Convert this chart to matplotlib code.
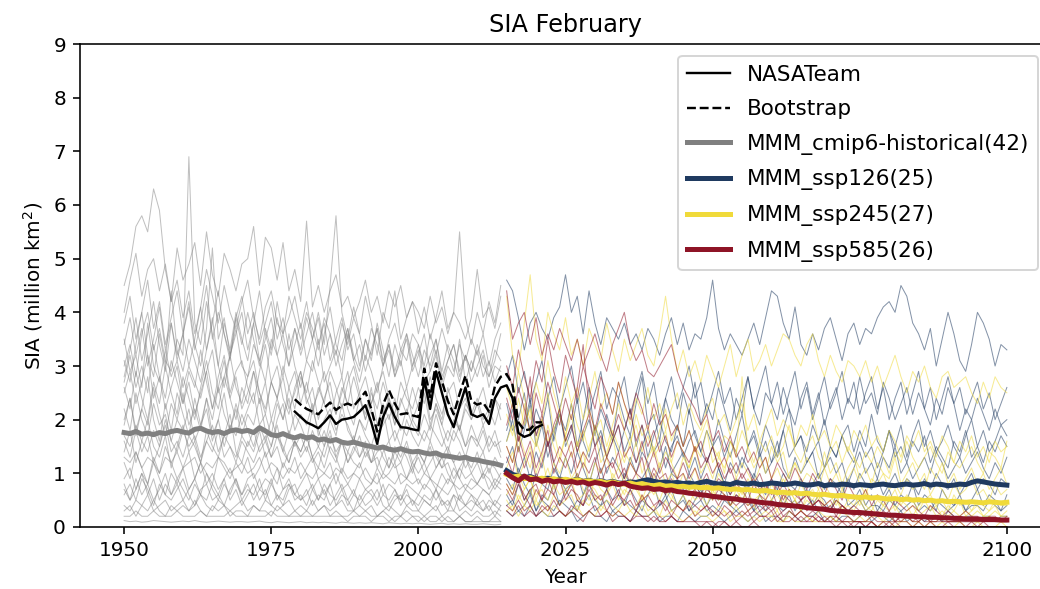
import matplotlib
matplotlib.use("Agg")
import matplotlib.pyplot as plt
import numpy as np

# years
hist_years = np.arange(1950, 2015)
ssp_years = np.arange(2015, 2101)
obs_years = np.arange(1979, 2022)

# observations
nasateam = [2.15, 2.05, 1.95, 1.90, 1.84, 1.95, 2.08, 1.92, 2.00, 2.02,
            2.05, 2.15, 2.27, 1.95, 1.55, 2.05, 2.30, 2.05, 1.86, 1.85,
            1.82, 1.80, 2.75, 2.20, 2.90, 2.50, 2.10, 1.86, 2.25, 2.60,
            2.10, 2.05, 2.10, 1.92, 2.40, 2.60, 2.64, 2.40, 1.75, 1.68,
            1.72, 1.85, 1.90]
bootstrap = [2.38, 2.28, 2.20, 2.15, 2.10, 2.22, 2.32, 2.18, 2.26, 2.30,
             2.25, 2.38, 2.52, 2.20, 1.78, 2.28, 2.55, 2.30, 2.10, 2.12,
             2.08, 2.05, 2.95, 2.42, 3.05, 2.72, 2.35, 2.10, 2.48, 2.82,
             2.35, 2.28, 2.32, 2.15, 2.62, 2.80, 2.85, 2.65, 1.95, 1.80,
             1.82, 1.95, 1.95]

# multi model means
mmm_hist = [1.76, 1.74, 1.78, 1.73, 1.75, 1.72, 1.76, 1.74, 1.78, 1.80,
            1.77, 1.75, 1.82, 1.84, 1.79, 1.76, 1.78, 1.74, 1.79, 1.81,
            1.78, 1.80, 1.76, 1.85, 1.79, 1.72, 1.70, 1.74, 1.69, 1.66,
            1.70, 1.66, 1.68, 1.62, 1.64, 1.60, 1.63, 1.58, 1.56, 1.58,
            1.55, 1.52, 1.50, 1.47, 1.49, 1.45, 1.43, 1.46, 1.42, 1.40,
            1.41, 1.38, 1.36, 1.38, 1.33, 1.32, 1.30, 1.28, 1.30, 1.26,
            1.25, 1.22, 1.20, 1.18, 1.15]
mmm_126 = [1.05, 0.98, 0.95, 0.92, 0.94, 0.90, 0.88, 0.91, 0.87, 0.89,
           0.88, 0.86, 0.89, 0.85, 0.87, 0.84, 0.86, 0.83, 0.85, 0.82,
           0.81, 0.84, 0.83, 0.86, 0.88, 0.85, 0.83, 0.84, 0.82, 0.83,
           0.81, 0.82, 0.80, 0.83, 0.85, 0.82, 0.80, 0.81, 0.79, 0.83,
           0.81, 0.80, 0.82, 0.79, 0.80, 0.82, 0.81, 0.79, 0.80, 0.82,
           0.80, 0.78, 0.79, 0.81, 0.77, 0.79, 0.78, 0.80, 0.79, 0.77,
           0.79, 0.78, 0.77, 0.79, 0.80, 0.78, 0.77, 0.79, 0.80, 0.78,
           0.79, 0.81, 0.78, 0.80, 0.79, 0.77, 0.78, 0.80, 0.79, 0.83,
           0.86, 0.84, 0.82, 0.80, 0.79, 0.78]
mmm_245 = [0.98, 0.93, 0.95, 0.90, 0.92, 0.89, 0.91, 0.88, 0.90, 0.87,
           0.89, 0.86, 0.88, 0.85, 0.86, 0.84, 0.85, 0.82, 0.84, 0.81,
           0.80, 0.82, 0.79, 0.81, 0.78, 0.77, 0.79, 0.76, 0.77, 0.75,
           0.76, 0.74, 0.75, 0.73, 0.74, 0.72, 0.73, 0.71, 0.70, 0.71,
           0.69, 0.70, 0.68, 0.67, 0.68, 0.66, 0.64, 0.65, 0.63, 0.64,
           0.62, 0.63, 0.61, 0.60, 0.61, 0.59, 0.58, 0.59, 0.57, 0.56,
           0.55, 0.56, 0.54, 0.55, 0.53, 0.52, 0.53, 0.51, 0.52, 0.50,
           0.51, 0.49, 0.50, 0.48, 0.49, 0.47, 0.48, 0.47, 0.46, 0.47,
           0.46, 0.45, 0.47, 0.46, 0.45, 0.46]
mmm_585 = [1.00, 0.92, 0.86, 0.95, 0.88, 0.90, 0.85, 0.88, 0.84, 0.86,
           0.83, 0.85, 0.82, 0.84, 0.80, 0.83, 0.81, 0.78, 0.82, 0.79,
           0.82, 0.76, 0.74, 0.72, 0.73, 0.70, 0.71, 0.68, 0.69, 0.66,
           0.65, 0.63, 0.62, 0.60, 0.59, 0.57, 0.56, 0.54, 0.53, 0.52,
           0.50, 0.49, 0.48, 0.46, 0.45, 0.44, 0.42, 0.41, 0.40, 0.39,
           0.38, 0.36, 0.35, 0.34, 0.33, 0.31, 0.30, 0.29, 0.28, 0.27,
           0.27, 0.26, 0.25, 0.24, 0.23, 0.22, 0.22, 0.21, 0.20, 0.20,
           0.19, 0.19, 0.18, 0.18, 0.17, 0.17, 0.16, 0.16, 0.15, 0.15,
           0.15, 0.14, 0.14, 0.14, 0.13, 0.13]

# individual historical members (1950-2014)
hist_models = [
    [4.5, 4.9, 5.6, 5.8, 5.5, 6.3, 5.9, 4.8, 4.2, 4.6, 3.9, 4.4, 3.6, 4.1, 4.8, 4.3, 3.8, 4.5, 4.0, 3.7,
     4.2, 4.6, 3.9, 3.5, 4.1, 4.4, 3.8, 3.6, 4.3, 3.9, 3.5, 4.0, 3.7, 3.3, 3.9, 3.6, 3.2, 3.8, 3.4, 3.9,
     3.6, 3.1, 3.7, 3.4, 3.0, 3.5, 3.8, 3.3, 3.1, 3.6, 3.4, 3.0, 3.6, 3.2, 3.7, 3.3, 2.9, 3.4, 3.1, 3.5,
     3.2, 3.6, 3.0, 3.5, 3.8],
    [3.0, 3.4, 2.8, 3.6, 4.0, 3.3, 3.7, 3.1, 2.9, 3.5, 3.2, 6.9, 3.8, 3.4, 4.2, 3.6, 3.0, 3.8, 3.3, 4.0,
     3.5, 3.1, 3.8, 4.4, 3.6, 3.2, 3.9, 3.4, 3.0, 3.7, 3.3, 3.9, 3.5, 3.0, 3.6, 4.1, 3.4, 3.1, 3.7, 3.2,
     2.9, 3.5, 3.1, 3.8, 3.3, 2.8, 3.4, 3.0, 3.6, 3.2, 2.8, 3.3, 3.0, 3.5, 2.9, 3.4, 3.1, 2.7, 3.2, 2.9,
     3.4, 3.0, 2.8, 3.3, 3.1],
    [4.0, 4.6, 5.1, 4.3, 4.8, 5.0, 4.4, 4.9, 4.2, 5.2, 4.6, 4.9, 5.3, 4.5, 5.5, 4.7, 4.3, 5.1, 4.8, 4.4,
     4.9, 5.0, 5.6, 4.5, 5.4, 5.2, 4.6, 5.3, 4.4, 4.8, 4.2, 5.7, 4.1, 4.5, 4.0, 4.4, 4.7, 4.1, 4.3, 3.9,
     4.2, 4.6, 4.0, 4.3, 3.8, 4.4, 4.1, 4.5, 3.9, 4.2, 4.0, 3.7, 4.3, 3.8, 4.1, 3.6, 4.0, 3.8, 3.5, 3.9,
     4.8, 3.9, 4.1, 3.7, 4.3],
    [2.8, 3.3, 3.9, 3.1, 3.6, 4.2, 3.4, 2.9, 3.8, 3.2, 3.6, 3.0, 3.5, 4.1, 3.3, 3.8, 4.4, 3.6, 3.1, 3.9,
     3.4, 4.0, 3.5, 3.0, 3.7, 3.3, 4.2, 3.6, 3.9, 4.3, 3.7, 4.2, 3.5, 4.0, 3.4, 4.5, 5.8, 4.0, 3.5, 4.1,
     3.6, 4.3, 3.8, 3.2, 4.0, 3.7, 4.4, 3.5, 3.9, 4.2, 3.6, 4.1, 3.5, 3.9, 4.4, 3.7, 4.0, 5.5, 3.9, 3.4,
     4.0, 3.6, 4.2, 3.8, 4.5],
    [2.6, 2.2, 2.9, 2.4, 2.0, 2.7, 2.3, 3.0, 2.5, 2.1, 2.8, 2.4, 2.0, 2.6, 3.1, 2.5, 2.2, 2.8, 2.4, 2.0,
     2.6, 2.3, 2.9, 2.5, 2.1, 2.7, 2.4, 2.0, 2.6, 2.9, 2.3, 2.7, 2.2, 2.5, 2.9, 2.4, 2.1, 2.6, 2.3, 2.8,
     2.4, 2.0, 2.5, 2.2, 2.7, 2.3, 1.9, 2.4, 2.1, 2.6, 2.2, 2.5, 1.9, 2.3, 2.0, 2.6, 2.2, 1.8, 2.3, 2.1,
     2.4, 2.0, 2.2, 1.9, 2.3],
    [1.9, 2.4, 1.7, 2.2, 2.8, 2.0, 1.6, 2.3, 1.8, 2.5, 2.1, 1.7, 2.4, 1.9, 2.2, 1.6, 2.0, 2.5, 1.8, 2.2,
     1.7, 2.1, 1.9, 2.4, 1.8, 1.5, 2.0, 2.3, 1.7, 2.1, 1.9, 1.6, 2.2, 1.8, 1.5, 2.0, 1.7, 2.3, 1.8, 1.6,
     2.0, 1.7, 1.5, 1.9, 2.2, 1.6, 1.8, 1.5, 2.0, 1.7, 1.5, 1.8, 1.6, 2.1, 1.7, 1.4, 1.8, 1.6, 1.3, 1.7,
     1.5, 1.8, 1.4, 1.6, 1.3],
    [2.7, 3.2, 2.6, 3.0, 2.5, 3.4, 2.8, 2.4, 3.1, 2.7, 2.3, 2.9, 2.6, 3.3, 2.7, 2.2, 2.8, 3.2, 2.5, 2.9,
     3.1, 2.6, 2.3, 2.9, 3.4, 2.7, 2.4, 3.0, 2.6, 2.2, 2.8, 2.5, 3.1, 2.7, 2.3, 2.9, 2.6, 2.2, 2.7, 3.0,
     2.5, 2.8, 2.3, 2.6, 2.9, 2.4, 2.1, 2.7, 2.4, 2.2, 2.6, 2.3, 2.8, 2.4, 2.1, 2.5, 2.7, 2.2, 2.4, 2.0,
     2.3, 2.6, 2.1, 2.4, 2.2],
    [1.2, 0.9, 1.4, 1.1, 0.8, 1.3, 1.0, 1.5, 1.2, 0.9, 1.1, 1.4, 0.9, 1.2, 1.0, 0.8, 1.3, 1.1, 0.9, 1.2,
     1.0, 1.3, 0.9, 1.1, 1.4, 1.0, 0.8, 1.2, 1.0, 1.3, 0.9, 1.1, 1.3, 0.9, 1.0, 1.2, 0.8, 1.1, 0.9, 1.0,
     1.2, 0.9, 0.8, 1.1, 0.9, 1.0, 1.2, 0.8, 0.9, 1.1, 0.8, 1.0, 0.9, 0.7, 1.0, 0.8, 1.1, 0.9, 0.7, 0.9,
     0.8, 1.0, 0.7, 0.9, 0.8],
    [0.7, 0.5, 0.9, 0.6, 0.8, 0.5, 0.7, 1.0, 0.6, 0.8, 0.5, 0.7, 0.9, 0.6, 0.5, 0.8, 0.6, 0.4, 0.7, 0.9,
     0.6, 0.8, 0.5, 0.7, 0.6, 0.9, 0.5, 0.7, 0.8, 0.5, 0.6, 0.4, 0.7, 0.5, 0.8, 0.6, 0.5, 0.7, 0.4, 0.6,
     0.5, 0.7, 0.6, 0.4, 0.6, 0.5, 0.7, 0.4, 0.6, 0.5, 0.4, 0.6, 0.5, 0.7, 0.4, 0.5, 0.3, 0.6, 0.4, 0.5,
     0.4, 0.3, 0.5, 0.4, 0.3],
    [0.3, 0.4, 0.2, 0.4, 0.3, 0.5, 0.3, 0.2, 0.4, 0.3, 0.4, 0.3, 0.5, 0.3, 0.2, 0.4, 0.3, 0.4, 0.2, 0.3,
     0.3, 0.2, 0.4, 0.3, 0.3, 0.2, 0.4, 0.3, 0.2, 0.3, 0.2, 0.3, 0.2, 0.3, 0.4, 0.2, 0.3, 0.2, 0.2, 0.3,
     0.2, 0.3, 0.2, 0.2, 0.3, 0.2, 0.1, 0.2, 0.3, 0.2, 0.2, 0.1, 0.2, 0.2, 0.1, 0.2, 0.1, 0.2, 0.1, 0.1,
     0.2, 0.1, 0.1, 0.2, 0.1],
    [0.12, 0.10, 0.11, 0.09, 0.10, 0.12, 0.11, 0.10, 0.09, 0.10, 0.11, 0.10, 0.12, 0.10, 0.09, 0.10, 0.11, 0.10, 0.09, 0.10,
     0.10, 0.09, 0.10, 0.11, 0.09, 0.08, 0.10, 0.09, 0.08, 0.09, 0.10, 0.08, 0.09, 0.08, 0.09, 0.08, 0.07, 0.09, 0.08, 0.07,
     0.08, 0.07, 0.08, 0.07, 0.06, 0.08, 0.07, 0.06, 0.07, 0.06, 0.07, 0.06, 0.05, 0.06, 0.07, 0.05, 0.06, 0.05, 0.06, 0.05,
     0.05, 0.06, 0.05, 0.04, 0.05],
    [1.6, 1.3, 1.8, 1.4, 1.7, 1.2, 1.5, 1.9, 1.4, 1.6, 1.3, 1.7, 1.5, 1.2, 1.6, 1.4, 1.8, 1.3, 1.5, 1.2,
     1.6, 1.4, 1.2, 1.5, 1.7, 1.3, 1.5, 1.1, 1.4, 1.6, 1.3, 1.5, 1.2, 1.4, 1.1, 1.5, 1.3, 1.0, 1.4, 1.2,
     1.1, 1.4, 1.2, 1.3, 1.0, 1.3, 1.1, 1.2, 0.9, 1.2, 1.0, 1.2, 0.9, 1.1, 1.3, 1.0, 0.8, 1.1, 0.9, 1.0,
     0.8, 1.0, 0.9, 0.7, 0.9],
    [0.6, 0.8, 0.5, 0.9, 0.7, 0.4, 0.8, 0.6, 0.5, 0.7, 0.9, 0.6, 0.4, 0.7, 0.8, 0.5, 0.6, 0.9, 0.5, 0.7,
     0.4, 0.6, 0.8, 0.5, 0.7, 0.4, 0.6, 0.5, 0.8, 0.6, 0.5, 0.7, 0.4, 0.6, 0.5, 0.8, 0.4, 0.6, 0.5, 0.3,
     0.6, 0.4, 0.5, 0.7, 0.4, 0.3, 0.5, 0.6, 0.4, 0.5, 0.3, 0.5, 0.4, 0.3, 0.5, 0.4, 0.6, 0.3, 0.4, 0.3,
     0.5, 0.3, 0.4, 0.2, 0.4],
    [3.5, 2.9, 3.2, 2.6, 3.8, 3.0, 2.7, 3.3, 2.8, 3.1, 2.6, 3.0, 2.7, 2.4, 2.9, 3.3, 2.5, 2.8, 3.2, 2.6,
     2.3, 2.8, 3.1, 2.5, 2.2, 2.7, 3.0, 2.4, 2.1, 2.6, 2.9, 2.4, 2.1, 2.6, 2.3, 2.0, 2.5, 2.8, 2.2, 1.9,
     2.4, 2.1, 2.6, 1.9, 2.3, 2.0, 2.4, 1.8, 2.2, 1.9, 1.7, 2.1, 1.8, 2.3, 1.9, 1.6, 2.0, 1.8, 1.5, 1.9,
     1.6, 1.9, 1.5, 1.8, 1.4],
    [2.2, 1.8, 2.5, 2.0, 1.7, 2.3, 1.9, 2.1, 1.6, 2.0, 1.8, 2.2, 1.6, 1.9, 2.4, 1.7, 2.0, 1.5, 1.9, 1.7,
     2.1, 1.8, 1.5, 1.9, 1.6, 2.0, 1.7, 1.4, 1.8, 1.5, 1.7, 1.4, 1.8, 1.5, 1.3, 1.7, 1.4, 1.6, 1.2, 1.5,
     1.3, 1.6, 1.2, 1.4, 1.5, 1.1, 1.4, 1.2, 1.5, 1.1, 1.3, 1.0, 1.2, 1.4, 1.1, 1.2, 0.9, 1.1, 1.3, 1.0,
     1.2, 0.9, 1.1, 0.8, 1.0],
    [3.1, 2.7, 3.4, 4.0, 3.2, 2.8, 3.6, 3.0, 4.4, 3.3, 2.9, 3.5, 3.1, 2.7, 3.3, 3.9, 3.0, 2.6, 3.2, 3.7,
     3.0, 2.8, 3.4, 3.1, 2.7, 3.5, 3.2, 2.8, 3.6, 3.0, 2.6, 3.1, 2.9, 3.5, 2.7, 3.0, 3.3, 2.8, 3.6, 3.1,
     2.7, 3.2, 2.9, 2.5, 3.0, 3.4, 2.8, 3.1, 2.6, 3.0, 3.3, 2.7, 2.9, 3.2, 2.6, 3.0, 2.8, 3.5, 2.7, 3.1,
     2.8, 3.2, 2.6, 3.0, 2.9],
    [1.4, 1.8, 1.2, 1.6, 2.0, 1.5, 1.3, 1.7, 1.1, 1.5, 1.9, 1.4, 1.6, 1.2, 1.8, 1.5, 1.3, 1.7, 2.1, 1.4,
     1.2, 1.6, 1.4, 1.8, 1.3, 1.5, 1.9, 1.4, 1.2, 1.6, 1.4, 1.7, 1.3, 1.1, 1.5, 1.8, 1.3, 1.6, 1.2, 1.4,
     1.7, 1.3, 1.5, 1.1, 1.4, 1.6, 1.2, 1.5, 1.3, 1.0, 1.4, 1.2, 1.6, 1.3, 1.1, 1.4, 1.2, 0.9, 1.3, 1.1,
     1.4, 1.0, 1.2, 1.1, 0.9],
    [0.9, 1.1, 0.7, 1.0, 0.8, 1.2, 0.9, 0.6, 1.0, 0.8, 1.1, 0.7, 0.9, 1.2, 0.8, 1.0, 0.7, 0.9, 1.1, 0.8,
     0.6, 0.9, 1.0, 0.7, 0.9, 0.8, 1.1, 0.7, 0.9, 0.6, 0.8, 1.0, 0.7, 0.9, 0.6, 0.8, 1.0, 0.7, 0.8, 0.6,
     0.9, 0.7, 0.8, 1.0, 0.6, 0.8, 0.7, 0.5, 0.8, 0.7, 0.6, 0.8, 0.7, 0.5, 0.7, 0.6, 0.8, 0.5, 0.7, 0.6,
     0.5, 0.7, 0.6, 0.4, 0.6],
    [3.8, 4.3, 3.5, 4.0, 4.6, 3.7, 4.2, 3.4, 3.9, 4.4, 3.6, 4.1, 3.3, 3.8, 4.5, 3.5, 4.0, 3.6, 3.2, 3.9,
     4.3, 3.6, 4.0, 3.4, 3.8, 4.2, 3.5, 3.9, 3.3, 3.7, 3.2, 3.6, 4.0, 3.4, 3.8, 3.1, 3.5, 3.9, 3.3, 3.6,
     3.0, 3.5, 3.2, 3.7, 3.1, 3.4, 2.9, 3.3, 3.6, 3.0, 3.4, 2.9, 3.2, 3.5, 2.8, 3.1, 3.4, 2.9, 3.2, 2.7,
     3.0, 3.3, 2.8, 3.1, 3.6],
    [0.4, 0.3, 0.5, 0.4, 0.6, 0.3, 0.4, 0.5, 0.3, 0.4, 0.5, 0.3, 0.4, 0.6, 0.4, 0.3, 0.5, 0.4, 0.3, 0.4,
     0.5, 0.3, 0.4, 0.3, 0.5, 0.4, 0.3, 0.4, 0.5, 0.3, 0.4, 0.3, 0.5, 0.3, 0.4, 0.3, 0.4, 0.5, 0.3, 0.3,
     0.4, 0.3, 0.4, 0.2, 0.3, 0.4, 0.3, 0.2, 0.4, 0.3, 0.3, 0.2, 0.3, 0.4, 0.2, 0.3, 0.3, 0.2, 0.3, 0.2,
     0.3, 0.2, 0.2, 0.3, 0.2],
    [2.0, 2.4, 1.8, 2.2, 1.9, 2.6, 2.1, 1.7, 2.3, 2.0, 2.5, 1.9, 2.2, 1.8, 2.4, 2.0, 2.6, 2.1, 1.8, 2.3,
     1.9, 2.2, 2.5, 1.9, 2.1, 1.7, 2.3, 2.0, 2.4, 1.8, 2.1, 1.9, 2.3, 1.7, 2.0, 2.2, 1.8, 2.1, 1.9, 1.6,
     2.0, 1.8, 2.2, 1.7, 1.9, 2.1, 1.6, 1.9, 1.7, 2.0, 1.8, 1.6, 1.9, 1.7, 1.5, 1.8, 1.6, 1.9, 1.5, 1.7,
     1.6, 1.4, 1.7, 1.5, 1.6],
    [1.3, 1.2, 1.4, 1.1, 1.3, 1.2, 1.0, 1.3, 1.2, 1.4, 1.1, 1.2, 1.3, 1.0, 1.2, 1.1, 1.3, 1.2, 1.0, 1.1,
     1.2, 1.0, 1.1, 1.3, 1.0, 1.2, 1.1, 0.9, 1.1, 1.0, 1.2, 1.0, 0.9, 1.1, 1.0, 0.9, 1.1, 1.0, 0.8, 1.0,
     0.9, 1.1, 0.9, 0.8, 1.0, 0.9, 0.8, 1.0, 0.9, 0.8, 0.9, 0.7, 0.9, 0.8, 0.7, 0.9, 0.8, 0.7, 0.8, 0.7,
     0.8, 0.7, 0.6, 0.8, 0.7],
    [3.4, 3.9, 3.2, 3.7, 3.0, 3.5, 4.1, 3.3, 3.8, 3.1, 3.6, 4.2, 3.4, 3.0, 3.7, 5.2, 3.5, 3.9, 3.2, 3.6,
     4.0, 3.3, 3.8, 3.1, 3.5, 3.9, 3.2, 3.6, 3.0, 3.4, 3.8, 3.1, 3.5, 3.9, 3.2, 3.6, 3.0, 3.4, 3.7, 3.1,
     3.4, 2.9, 3.3, 3.7, 3.0, 3.3, 2.8, 3.2, 3.5, 2.9, 3.2, 3.6, 2.9, 3.3, 2.7, 3.1, 3.4, 2.8, 3.2, 2.9,
     3.3, 2.8, 3.1, 2.7, 3.0],
    [0.2, 0.2, 0.3, 0.2, 0.2, 0.3, 0.2, 0.2, 0.2, 0.3, 0.2, 0.2, 0.2, 0.3, 0.2, 0.2, 0.2, 0.2, 0.3, 0.2,
     0.2, 0.2, 0.2, 0.2, 0.2, 0.3, 0.2, 0.2, 0.2, 0.2, 0.2, 0.2, 0.2, 0.2, 0.2, 0.2, 0.2, 0.2, 0.1, 0.2,
     0.2, 0.2, 0.1, 0.2, 0.2, 0.1, 0.2, 0.2, 0.1, 0.2, 0.1, 0.2, 0.1, 0.1, 0.2, 0.1, 0.1, 0.2, 0.1, 0.1,
     0.1, 0.1, 0.1, 0.1, 0.1],
    [0.8, 0.5, 0.7, 1.0, 0.6, 0.9, 0.5, 0.8, 0.6, 0.9, 0.7, 0.5, 0.8, 0.6, 1.0, 0.7, 0.5, 0.8, 0.6, 0.9,
     0.5, 0.7, 0.6, 0.9, 0.5, 0.8, 0.6, 0.4, 0.7, 0.8, 0.5, 0.6, 0.8, 0.5, 0.7, 0.4, 0.6, 0.8, 0.5, 0.7,
     0.4, 0.6, 0.7, 0.5, 0.8, 0.4, 0.6, 0.5, 0.7, 0.4, 0.6, 0.5, 0.4, 0.7, 0.5, 0.3, 0.6, 0.5, 0.4, 0.6,
     0.4, 0.5, 0.3, 0.5, 0.4],
    [2.5, 2.9, 2.3, 2.7, 3.2, 2.4, 2.8, 2.2, 2.6, 3.0, 2.3, 2.7, 2.1, 2.5, 2.9, 2.2, 2.6, 3.1, 2.4, 2.8,
     2.2, 2.5, 2.9, 2.3, 2.7, 2.0, 2.4, 2.8, 2.2, 2.5, 2.9, 2.3, 2.6, 2.0, 2.4, 2.7, 2.1, 2.5, 2.9, 2.2,
     2.5, 2.0, 2.3, 2.7, 2.1, 2.4, 1.9, 2.3, 2.6, 2.0, 2.3, 2.7, 2.0, 2.2, 1.9, 2.4, 2.1, 1.8, 2.2, 2.0,
     2.3, 1.9, 2.1, 2.4, 2.0],
    [1.7, 1.5, 1.9, 1.6, 1.4, 1.8, 1.5, 2.0, 1.6, 1.4, 1.8, 1.5, 1.7, 1.3, 1.6, 1.9, 1.4, 1.7, 1.5, 1.3,
     1.7, 1.5, 1.8, 1.4, 1.6, 1.3, 1.7, 1.5, 1.2, 1.6, 1.4, 1.7, 1.3, 1.5, 1.8, 1.4, 1.2, 1.6, 1.4, 1.7,
     1.3, 1.5, 1.2, 1.6, 1.3, 1.1, 1.5, 1.3, 1.6, 1.2, 1.4, 1.2, 1.5, 1.1, 1.3, 1.5, 1.2, 1.4, 1.1, 1.3,
     1.2, 1.4, 1.0, 1.3, 1.1],
]

# individual scenario members (2015-2100)
ssp126_models = [
    [4.6, 4.4, 3.9, 3.3, 3.8, 4.0, 3.7, 3.5, 3.9, 4.1, 4.7, 4.0, 4.3, 3.6, 4.4, 3.8, 3.4, 3.9, 3.7, 3.5,
     3.8, 3.4, 3.6, 3.3, 3.7, 3.5, 3.2, 3.6, 3.9, 3.4, 3.8, 3.3, 3.6, 3.5, 3.9, 4.6, 3.7, 3.3, 3.6, 3.4,
     3.2, 3.5, 3.8, 3.4, 3.9, 4.4, 4.3, 3.8, 3.5, 4.1, 3.4, 3.2, 3.6, 3.3, 3.7, 3.9, 3.5, 3.1, 3.6, 3.8,
     3.4, 3.7, 3.6, 3.9, 4.1, 4.2, 4.0, 4.5, 4.3, 3.8, 3.6, 3.3, 3.7, 3.0, 3.5, 4.0, 3.6, 3.1, 2.9, 3.4,
     4.0, 3.8, 3.5, 3.0, 3.4, 3.3],
    [2.3, 1.8, 2.0, 2.5, 1.7, 2.2, 1.9, 2.4, 1.6, 2.1, 1.8, 2.3, 1.5, 2.0, 2.6, 1.7, 2.2, 1.9, 1.6, 2.4,
     2.0, 1.7, 2.3, 2.8, 1.9, 2.1, 1.6, 2.4, 2.0, 1.8, 2.5, 2.1, 2.7, 1.9, 2.3, 2.0, 2.6, 2.2, 1.8, 2.4,
     2.1, 2.8, 2.2, 1.9, 2.5, 2.3, 2.0, 2.6, 2.2, 1.9, 2.4, 2.7, 2.1, 2.5, 1.9, 2.3, 2.6, 2.0, 2.4, 2.2,
     2.8, 2.3, 2.5, 2.1, 2.7, 2.4, 2.0, 2.3, 2.6, 2.1, 2.5, 2.2, 1.9, 2.4, 2.1, 2.6, 2.3, 1.8, 2.2, 2.0,
     2.4, 2.1, 1.8, 2.2, 1.9, 2.0],
    [1.2, 1.5, 1.0, 1.3, 0.9, 1.4, 1.1, 1.6, 1.2, 0.9, 1.3, 1.0, 1.4, 1.1, 0.8, 1.2, 1.5, 1.0, 1.3, 1.1,
     0.9, 1.3, 1.0, 1.4, 1.2, 0.8, 1.1, 1.5, 1.0, 1.2, 1.4, 1.0, 1.3, 0.9, 1.2, 1.5, 1.1, 0.8, 1.2, 1.0,
     1.3, 1.1, 0.9, 1.4, 1.0, 1.2, 1.6, 1.1, 0.9, 1.3, 1.0, 1.2, 1.4, 0.9, 1.1, 1.3, 1.0, 1.2, 0.8, 1.1,
     1.4, 1.0, 1.2, 0.9, 1.3, 1.1, 1.5, 1.0, 1.2, 0.9, 1.1, 1.3, 1.0, 1.4, 1.2, 0.9, 1.1, 1.3, 1.0, 1.2,
     1.4, 1.1, 0.9, 1.2, 1.0, 1.3],
    [0.6, 0.4, 0.8, 0.5, 0.7, 0.3, 0.6, 0.5, 0.8, 0.4, 0.7, 0.5, 0.3, 0.6, 0.8, 0.5, 0.4, 0.7, 0.5, 0.6,
     0.4, 0.7, 0.5, 0.3, 0.6, 0.8, 0.4, 0.5, 0.7, 0.4, 0.6, 0.3, 0.5, 0.7, 0.4, 0.6, 0.5, 0.8, 0.4, 0.6,
     0.5, 0.7, 0.3, 0.6, 0.4, 0.5, 0.7, 0.4, 0.6, 0.3, 0.5, 0.7, 0.4, 0.6, 0.5, 0.3, 0.6, 0.8, 0.4, 0.5,
     0.7, 0.4, 0.6, 0.3, 0.5, 0.7, 0.4, 0.6, 0.5, 0.8, 0.4, 0.6, 0.5, 0.3, 0.7, 0.5, 0.4, 0.6, 0.3, 0.5,
     0.7, 0.4, 0.6, 0.5, 0.3, 0.6],
    [1.8, 2.2, 1.6, 1.9, 2.4, 1.7, 2.0, 1.5, 1.8, 2.1, 1.6, 1.9, 1.4, 1.7, 2.0, 1.5, 1.8, 1.3, 1.6, 1.9,
     1.4, 1.7, 1.2, 1.5, 1.8, 1.4, 1.6, 1.1, 1.5, 1.7, 1.3, 1.6, 1.8, 1.4, 1.2, 1.5, 1.7, 1.3, 1.6, 1.4,
     1.1, 1.5, 1.7, 1.3, 1.6, 1.2, 1.4, 1.8, 1.3, 1.5, 1.7, 1.2, 1.4, 1.6, 1.1, 1.5, 1.3, 1.7, 1.4, 1.2,
     1.6, 1.3, 1.5, 1.1, 1.4, 1.8, 1.3, 1.5, 1.2, 1.6, 1.4, 1.7, 1.2, 1.5, 1.3, 1.1, 1.6, 1.4, 1.8, 1.3,
     1.5, 1.2, 1.6, 1.4, 1.7, 1.5],
    [0.3, 0.2, 0.3, 0.2, 0.4, 0.2, 0.3, 0.2, 0.2, 0.3, 0.2, 0.3, 0.1, 0.2, 0.3, 0.2, 0.2, 0.1, 0.3, 0.2,
     0.2, 0.1, 0.3, 0.2, 0.2, 0.3, 0.1, 0.2, 0.2, 0.1, 0.3, 0.2, 0.1, 0.2, 0.2, 0.3, 0.2, 0.1, 0.2, 0.3,
     0.2, 0.1, 0.2, 0.3, 0.1, 0.2, 0.2, 0.1, 0.3, 0.2, 0.1, 0.2, 0.2, 0.3, 0.1, 0.2, 0.1, 0.2, 0.2, 0.1,
     0.2, 0.3, 0.1, 0.2, 0.2, 0.1, 0.2, 0.3, 0.1, 0.2, 0.2, 0.1, 0.2, 0.2, 0.1, 0.3, 0.2, 0.1, 0.2, 0.2,
     0.1, 0.2, 0.2, 0.1, 0.2, 0.2],
    [1.6, 2.0, 1.4, 1.8, 2.3, 1.5, 1.9, 1.3, 1.7, 2.2, 1.5, 1.8, 2.4, 1.6, 1.3, 1.9, 1.5, 2.1, 1.7, 1.4,
     1.8, 2.2, 1.5, 1.9, 1.3, 1.7, 2.0, 1.6, 1.4, 1.9, 1.5, 2.2, 1.7, 1.4, 1.8, 1.5, 2.0, 1.6, 1.3, 1.7,
     2.1, 1.5, 1.8, 1.4, 1.9, 1.6, 1.3, 1.8, 2.2, 1.5, 1.7, 1.4, 1.9, 1.6, 2.0, 1.5, 1.3, 1.7, 1.9, 1.4,
     1.8, 1.5, 2.1, 1.6, 1.4, 1.8, 1.5, 1.9, 1.3, 1.7, 2.0, 1.5, 1.8, 1.4, 1.6, 1.9, 1.5, 1.3, 1.7, 2.0,
     1.5, 1.8, 1.4, 1.6, 1.9, 1.7],
    [0.9, 0.7, 1.1, 0.8, 0.6, 1.0, 0.8, 0.7, 1.1, 0.9, 0.7, 0.8, 1.0, 0.6, 0.9, 0.8, 1.1, 0.7, 0.9, 0.6,
     1.0, 0.8, 0.7, 0.9, 1.1, 0.7, 0.8, 0.6, 1.0, 0.9, 0.7, 1.0, 0.8, 0.6, 0.9, 0.7, 1.1, 0.8, 0.6, 0.9,
     0.8, 0.7, 1.0, 0.8, 0.6, 0.9, 0.7, 1.0, 0.8, 0.7, 0.9, 0.6, 0.8, 1.0, 0.7, 0.9, 0.8, 0.6, 0.9, 0.7,
     1.0, 0.8, 0.7, 0.9, 0.6, 0.8, 1.0, 0.7, 0.9, 0.8, 0.6, 0.9, 0.7, 1.0, 0.8, 0.7, 0.9, 0.6, 0.8, 1.0,
     0.7, 0.9, 0.8, 0.6, 0.9, 0.8],
    [2.8, 3.2, 2.5, 2.9, 2.3, 2.7, 3.1, 2.4, 2.8, 2.2, 2.6, 3.0, 2.3, 2.7, 2.1, 2.5, 2.9, 2.2, 2.6, 2.4,
     2.8, 2.1, 2.5, 2.9, 2.3, 2.7, 2.0, 2.4, 2.8, 2.2, 2.6, 3.0, 2.4, 2.7, 2.1, 2.5, 2.9, 2.3, 2.6, 2.0,
     2.4, 2.8, 2.2, 2.6, 3.0, 2.3, 2.7, 2.1, 2.5, 2.9, 2.2, 2.6, 2.0, 2.4, 2.8, 2.2, 2.5, 2.9, 2.3, 2.7,
     2.1, 2.5, 2.8, 2.2, 2.6, 2.0, 2.4, 2.7, 2.1, 2.5, 2.9, 2.2, 2.6, 2.0, 2.4, 2.8, 2.3, 2.6, 2.1, 2.4,
     2.7, 2.2, 2.5, 2.0, 2.3, 2.6],
    [0.4, 0.5, 0.3, 0.4, 0.6, 0.3, 0.5, 0.4, 0.3, 0.5, 0.4, 0.3, 0.5, 0.4, 0.6, 0.3, 0.4, 0.5, 0.3, 0.4,
     0.5, 0.4, 0.3, 0.5, 0.4, 0.3, 0.4, 0.6, 0.3, 0.4, 0.5, 0.3, 0.4, 0.5, 0.3, 0.4, 0.3, 0.5, 0.4, 0.3,
     0.4, 0.5, 0.3, 0.4, 0.3, 0.5, 0.4, 0.3, 0.4, 0.5, 0.3, 0.4, 0.5, 0.3, 0.4, 0.3, 0.5, 0.4, 0.3, 0.4,
     0.5, 0.3, 0.4, 0.4, 0.3, 0.5, 0.4, 0.3, 0.4, 0.5, 0.3, 0.4, 0.3, 0.5, 0.4, 0.3, 0.4, 0.5, 0.3, 0.4,
     0.4, 0.3, 0.5, 0.4, 0.3, 0.4],
]
ssp245_models = [
    [4.3, 3.2, 2.9, 3.8, 4.7, 3.5, 3.1, 4.0, 3.6, 3.3, 3.9, 3.2, 3.5, 3.0, 3.7, 3.4, 3.1, 3.8, 3.3, 2.9,
     3.5, 3.1, 3.4, 3.7, 3.2, 3.0, 3.6, 4.3, 3.5, 2.9, 3.3, 2.8, 3.1, 2.7, 3.2, 2.9, 2.6, 3.0, 3.4, 2.8,
     3.2, 3.5, 2.9, 3.1, 3.4, 3.0, 3.3, 3.6, 3.5, 3.2, 3.0, 3.4, 3.6, 3.1, 2.8, 3.2, 2.9, 2.7, 3.1, 3.0,
     2.8, 3.1, 2.7, 3.0, 2.6, 2.9, 3.2, 2.8, 2.5, 2.9, 2.7, 3.0, 2.6, 2.4, 2.8, 2.9, 2.6, 2.7, 2.8, 2.5,
     2.3, 2.7, 2.4, 2.8, 2.6, 2.5],
    [2.1, 1.7, 2.4, 1.9, 2.2, 1.6, 2.0, 2.5, 1.8, 2.1, 1.7, 2.3, 1.9, 1.6, 2.2, 1.8, 2.0, 1.5, 1.9, 2.3,
     1.8, 1.5, 2.1, 1.7, 1.9, 1.4, 1.8, 2.2, 1.6, 1.9, 1.5, 1.8, 1.4, 1.7, 2.0, 1.5, 1.3, 1.7, 1.6, 1.4,
     1.8, 1.5, 1.2, 1.6, 1.4, 1.7, 1.3, 1.5, 1.9, 1.4, 1.2, 1.5, 1.7, 1.3, 1.1, 1.4, 1.6, 1.2, 1.5, 1.3,
     1.1, 1.4, 1.2, 1.5, 1.3, 1.0, 1.4, 1.2, 1.6, 1.3, 1.1, 1.3, 1.5, 1.2, 1.0, 1.4, 1.2, 1.1, 1.3, 1.5,
     1.2, 1.0, 1.4, 1.3, 1.1, 1.6],
    [1.1, 1.4, 0.9, 1.2, 1.5, 1.0, 1.3, 0.8, 1.2, 1.0, 1.3, 0.9, 1.1, 1.4, 0.8, 1.2, 1.0, 1.3, 0.9, 1.1,
     0.8, 1.2, 1.0, 0.7, 1.1, 0.9, 1.2, 0.8, 1.0, 0.7, 1.0, 0.8, 1.1, 0.7, 0.9, 0.6, 1.0, 0.8, 0.7, 0.9,
     0.6, 0.9, 0.7, 0.8, 0.5, 0.8, 0.6, 0.9, 0.7, 0.5, 0.8, 0.6, 0.7, 0.5, 0.8, 0.6, 0.4, 0.7, 0.5, 0.6,
     0.4, 0.7, 0.5, 0.6, 0.4, 0.5, 0.7, 0.4, 0.6, 0.5, 0.3, 0.5, 0.6, 0.4, 0.5, 0.3, 0.6, 0.4, 0.5, 0.3,
     0.5, 0.4, 0.3, 0.5, 0.4, 0.4],
    [0.5, 0.3, 0.6, 0.4, 0.7, 0.4, 0.5, 0.3, 0.6, 0.4, 0.5, 0.6, 0.3, 0.5, 0.4, 0.6, 0.3, 0.5, 0.4, 0.3,
     0.5, 0.3, 0.4, 0.6, 0.3, 0.4, 0.2, 0.5, 0.3, 0.4, 0.3, 0.5, 0.2, 0.4, 0.3, 0.2, 0.4, 0.3, 0.2, 0.4,
     0.2, 0.3, 0.4, 0.2, 0.3, 0.2, 0.3, 0.1, 0.3, 0.2, 0.3, 0.2, 0.1, 0.3, 0.2, 0.2, 0.1, 0.3, 0.2, 0.1,
     0.2, 0.1, 0.2, 0.2, 0.1, 0.2, 0.1, 0.1, 0.2, 0.1, 0.1, 0.2, 0.1, 0.1, 0.2, 0.1, 0.1, 0.1, 0.2, 0.1,
     0.1, 0.1, 0.2, 0.1, 0.1, 0.1],
    [1.6, 1.9, 1.4, 2.3, 1.7, 1.5, 2.0, 1.6, 1.8, 1.3, 1.7, 2.1, 1.5, 1.8, 1.4, 1.9, 1.6, 1.3, 1.8, 1.5,
     1.2, 1.6, 1.9, 1.4, 1.7, 1.3, 1.5, 1.8, 1.2, 1.6, 1.4, 1.1, 1.5, 1.3, 1.8, 1.2, 1.4, 1.0, 1.6, 1.3,
     2.8, 1.4, 1.1, 1.3, 1.0, 1.5, 1.2, 1.4, 0.9, 1.2, 1.0, 1.3, 1.1, 0.9, 1.4, 1.0, 1.2, 0.8, 1.1, 1.3,
     0.9, 1.1, 0.8, 1.2, 1.0, 0.9, 1.3, 0.8, 1.0, 1.2, 0.9, 0.7, 1.1, 0.9, 1.2, 0.8, 1.0, 0.7, 0.9, 1.1,
     0.8, 1.0, 0.7, 0.9, 1.1, 0.8],
    [0.8, 0.6, 1.0, 0.7, 0.9, 0.5, 0.8, 1.1, 0.7, 0.9, 0.6, 0.8, 1.0, 0.7, 0.5, 0.9, 0.7, 0.6, 1.0, 0.8,
     0.6, 0.9, 0.7, 0.5, 0.8, 0.6, 0.9, 0.7, 0.5, 0.8, 0.6, 0.4, 0.7, 0.9, 0.6, 0.5, 0.8, 0.6, 0.4, 0.7,
     0.5, 0.7, 0.4, 0.6, 0.8, 0.5, 0.6, 0.4, 0.7, 0.5, 0.3, 0.6, 0.5, 0.7, 0.4, 0.5, 0.6, 0.3, 0.5, 0.4,
     0.6, 0.4, 0.3, 0.5, 0.4, 0.6, 0.3, 0.5, 0.4, 0.2, 0.4, 0.5, 0.3, 0.4, 0.2, 0.4, 0.3, 0.5, 0.2, 0.3,
     0.4, 0.2, 0.3, 0.4, 0.2, 0.3],
    [1.5, 1.2, 1.8, 1.4, 1.1, 1.6, 1.3, 1.9, 1.5, 1.2, 1.7, 1.3, 1.6, 1.1, 1.5, 1.8, 1.2, 1.4, 1.7, 1.1,
     1.4, 1.2, 1.6, 1.0, 1.3, 1.5, 1.1, 1.4, 1.2, 0.9, 1.3, 1.1, 1.5, 1.0, 1.2, 0.9, 1.3, 1.1, 1.4, 0.9,
     1.2, 1.0, 0.8, 1.1, 1.3, 0.9, 1.1, 0.8, 1.0, 1.2, 0.8, 1.0, 0.9, 0.7, 1.1, 0.8, 1.0, 0.7, 0.9, 1.1,
     0.8, 0.6, 0.9, 0.8, 1.0, 0.7, 0.8, 0.6, 0.9, 0.7, 0.8, 1.0, 0.6, 0.8, 0.7, 0.5, 0.8, 0.6, 0.7, 0.9,
     0.6, 0.7, 0.5, 0.8, 0.6, 0.7],
    [0.3, 0.4, 0.2, 0.4, 0.3, 0.5, 0.3, 0.2, 0.4, 0.3, 0.2, 0.3, 0.4, 0.2, 0.3, 0.2, 0.4, 0.3, 0.2, 0.3,
     0.2, 0.3, 0.2, 0.4, 0.2, 0.3, 0.2, 0.2, 0.3, 0.2, 0.1, 0.2, 0.3, 0.2, 0.2, 0.1, 0.2, 0.3, 0.1, 0.2,
     0.2, 0.1, 0.2, 0.1, 0.2, 0.2, 0.1, 0.1, 0.2, 0.1, 0.1, 0.2, 0.1, 0.1, 0.1, 0.2, 0.1, 0.1, 0.1, 0.1,
     0.1, 0.1, 0.1, 0.0, 0.1, 0.1, 0.0, 0.1, 0.1, 0.0, 0.1, 0.0, 0.1, 0.0, 0.1, 0.0, 0.0, 0.1, 0.0, 0.0,
     0.1, 0.0, 0.0, 0.0, 0.1, 0.0],
    [2.6, 2.2, 2.9, 2.4, 2.0, 2.7, 2.3, 3.1, 2.5, 2.1, 2.8, 2.3, 2.6, 2.0, 2.4, 2.9, 2.2, 2.5, 2.1, 2.7,
     2.3, 1.9, 2.4, 2.1, 2.6, 2.0, 2.3, 1.8, 2.2, 2.5, 1.9, 2.3, 2.0, 1.8, 2.2, 2.4, 1.9, 2.1, 1.7, 2.0,
     2.3, 1.8, 2.1, 1.6, 1.9, 2.2, 1.7, 2.0, 1.8, 1.5, 1.9, 1.7, 2.1, 1.6, 1.8, 1.5, 1.9, 1.7, 1.4, 1.8,
     1.6, 1.9, 1.5, 1.7, 1.4, 1.8, 1.6, 1.3, 1.7, 1.5, 1.8, 1.4, 1.6, 1.3, 1.7, 1.5, 1.2, 1.6, 1.4, 1.7,
     1.3, 1.5, 1.2, 1.6, 1.4, 1.5],
    [0.6, 0.8, 0.5, 0.7, 0.9, 0.6, 0.7, 0.5, 0.8, 0.6, 0.7, 0.9, 0.5, 0.6, 0.8, 0.7, 0.5, 0.6, 0.8, 0.5,
     0.7, 0.6, 0.8, 0.5, 0.6, 0.7, 0.5, 0.8, 0.6, 0.4, 0.6, 0.7, 0.5, 0.6, 0.4, 0.7, 0.5, 0.6, 0.4, 0.5,
     0.7, 0.4, 0.5, 0.6, 0.4, 0.5, 0.3, 0.6, 0.4, 0.5, 0.3, 0.5, 0.4, 0.6, 0.3, 0.4, 0.5, 0.3, 0.4, 0.3,
     0.5, 0.3, 0.4, 0.2, 0.4, 0.3, 0.4, 0.2, 0.3, 0.4, 0.2, 0.3, 0.4, 0.2, 0.3, 0.2, 0.3, 0.2, 0.3, 0.2,
     0.3, 0.2, 0.2, 0.3, 0.2, 0.2],
]
ssp585_models = [
    [4.4, 3.5, 3.8, 4.0, 3.4, 3.9, 3.2, 3.6, 3.3, 3.7, 3.4, 3.1, 3.5, 3.0, 3.3, 3.6, 3.2, 2.9, 3.4, 3.7,
     4.0, 3.4, 3.1, 3.3, 2.9, 2.8, 3.0, 3.2, 3.4, 2.9, 2.6, 2.4, 2.2, 1.9, 2.1, 1.6, 1.8, 1.4, 1.7, 1.3,
     1.5, 1.2, 1.4, 1.1, 1.3, 0.9, 1.2, 1.0, 0.8, 1.1, 0.9, 0.7, 1.0, 0.8, 0.6, 0.9, 0.7, 0.5, 0.8, 0.6,
     0.5, 0.7, 0.4, 0.6, 0.5, 0.3, 0.5, 0.4, 0.3, 0.4, 0.3, 0.2, 0.4, 0.3, 0.2, 0.3, 0.2, 0.2, 0.3, 0.2,
     0.2, 0.1, 0.2, 0.2, 0.1, 0.2],
    [2.4, 2.0, 2.6, 2.2, 1.8, 2.5, 2.1, 2.7, 2.3, 1.9, 2.4, 2.0, 2.6, 3.4, 2.2, 1.8, 2.3, 2.0, 1.7, 2.1,
     1.8, 2.2, 1.6, 1.9, 1.5, 1.8, 1.4, 1.7, 1.3, 1.6, 1.4, 1.2, 1.5, 1.1, 1.3, 1.0, 1.2, 0.9, 1.1, 0.8,
     1.0, 0.8, 0.9, 0.7, 0.8, 0.6, 0.8, 0.5, 0.7, 0.6, 0.5, 0.6, 0.4, 0.5, 0.4, 0.3, 0.5, 0.4, 0.3, 0.4,
     0.3, 0.2, 0.3, 0.2, 0.3, 0.2, 0.2, 0.1, 0.2, 0.2, 0.1, 0.2, 0.1, 0.1, 0.2, 0.1, 0.1, 0.1, 0.1, 0.1,
     0.1, 0.1, 0.1, 0.1, 0.1, 0.1],
    [1.3, 1.0, 1.5, 1.1, 1.4, 0.9, 1.2, 1.6, 1.0, 1.3, 1.1, 1.4, 0.9, 1.2, 1.0, 1.3, 0.8, 1.1, 1.2, 0.9,
     1.1, 0.8, 1.0, 0.9, 0.7, 1.0, 0.8, 0.6, 0.9, 0.7, 0.8, 0.6, 0.7, 0.5, 0.7, 0.6, 0.4, 0.6, 0.5, 0.4,
     0.5, 0.3, 0.4, 0.5, 0.3, 0.4, 0.2, 0.3, 0.4, 0.2, 0.3, 0.2, 0.3, 0.2, 0.1, 0.2, 0.2, 0.1, 0.2, 0.1,
     0.1, 0.1, 0.2, 0.1, 0.1, 0.1, 0.1, 0.1, 0.1, 0.0, 0.1, 0.0, 0.1, 0.0, 0.0, 0.1, 0.0, 0.0, 0.0, 0.0,
     0.0, 0.0, 0.0, 0.0, 0.0, 0.0],
    [0.7, 0.5, 0.8, 0.6, 0.4, 0.7, 0.5, 0.9, 0.6, 0.4, 0.6, 0.8, 0.5, 0.4, 0.7, 0.5, 0.6, 0.3, 0.5, 0.7,
     0.4, 0.5, 0.3, 0.6, 0.4, 0.3, 0.5, 0.4, 0.2, 0.4, 0.3, 0.4, 0.2, 0.3, 0.4, 0.2, 0.3, 0.2, 0.3, 0.1,
     0.2, 0.3, 0.1, 0.2, 0.2, 0.1, 0.2, 0.1, 0.1, 0.2, 0.1, 0.1, 0.2, 0.1, 0.1, 0.1, 0.0, 0.1, 0.1, 0.0,
     0.1, 0.0, 0.1, 0.0, 0.0, 0.1, 0.0, 0.0, 0.0, 0.0, 0.0, 0.0, 0.0, 0.0, 0.0, 0.0, 0.0, 0.0, 0.0, 0.0,
     0.0, 0.0, 0.0, 0.0, 0.0, 0.0],
    [1.9, 2.3, 1.6, 2.0, 2.8, 1.7, 2.1, 1.5, 1.9, 2.2, 1.6, 1.9, 1.4, 1.8, 2.1, 1.5, 1.7, 1.3, 1.6, 1.9,
     1.3, 1.5, 1.2, 1.6, 1.1, 1.4, 1.0, 1.3, 1.1, 0.9, 1.2, 0.9, 1.1, 0.8, 1.0, 0.7, 0.9, 0.8, 0.6, 0.8,
     0.7, 0.5, 0.8, 0.6, 0.5, 0.7, 0.4, 0.6, 0.5, 0.4, 0.5, 0.3, 0.4, 0.5, 0.3, 0.4, 0.2, 0.4, 0.3, 0.2,
     0.3, 0.2, 0.3, 0.2, 0.2, 0.3, 0.1, 0.2, 0.2, 0.1, 0.2, 0.1, 0.1, 0.2, 0.1, 0.1, 0.1, 0.1, 0.1, 0.1,
     0.1, 0.1, 0.1, 0.1, 0.1, 0.1],
    [0.3, 0.2, 0.4, 0.2, 0.3, 0.2, 0.3, 0.4, 0.2, 0.3, 0.2, 0.3, 0.2, 0.1, 0.3, 0.2, 0.2, 0.3, 0.1, 0.2,
     0.2, 0.1, 0.2, 0.2, 0.1, 0.2, 0.1, 0.1, 0.2, 0.1, 0.1, 0.1, 0.1, 0.0, 0.1, 0.1, 0.0, 0.1, 0.0, 0.0,
     0.0, 0.0, 0.0, 0.0, 0.0, 0.0, 0.0, 0.0, 0.0, 0.0, 0.0, 0.0, 0.0, 0.0, 0.0, 0.0, 0.0, 0.0, 0.0, 0.0,
     0.0, 0.0, 0.0, 0.0, 0.0, 0.0, 0.0, 0.0, 0.0, 0.0, 0.0, 0.0, 0.0, 0.0, 0.0, 0.0, 0.0, 0.0, 0.0, 0.0,
     0.0, 0.0, 0.0, 0.0, 0.0, 0.0],
    [1.5, 1.2, 1.7, 1.3, 1.6, 1.1, 1.4, 1.8, 1.2, 1.5, 1.3, 1.6, 1.1, 1.4, 1.2, 1.5, 1.0, 1.3, 1.1, 1.4,
     0.9, 1.2, 1.0, 1.3, 0.8, 1.1, 0.9, 1.0, 0.7, 0.9, 1.0, 0.7, 0.8, 0.6, 0.8, 0.5, 0.7, 0.6, 0.4, 0.6,
     0.5, 0.4, 0.5, 0.3, 0.4, 0.3, 0.4, 0.2, 0.3, 0.2, 0.3, 0.2, 0.2, 0.1, 0.2, 0.1, 0.2, 0.1, 0.1, 0.1,
     0.1, 0.1, 0.1, 0.0, 0.1, 0.0, 0.1, 0.0, 0.0, 0.0, 0.0, 0.0, 0.0, 0.0, 0.0, 0.0, 0.0, 0.0, 0.0, 0.0,
     0.0, 0.0, 0.0, 0.0, 0.0, 0.0],
    [0.8, 0.6, 0.9, 0.5, 0.7, 0.8, 0.5, 0.7, 0.6, 0.9, 0.5, 0.7, 0.6, 0.4, 0.8, 0.6, 0.5, 0.7, 0.4, 0.6,
     0.5, 0.7, 0.4, 0.5, 0.6, 0.4, 0.5, 0.3, 0.5, 0.4, 0.3, 0.5, 0.4, 0.3, 0.4, 0.3, 0.2, 0.4, 0.3, 0.2,
     0.3, 0.2, 0.3, 0.2, 0.2, 0.3, 0.1, 0.2, 0.2, 0.1, 0.2, 0.1, 0.1, 0.2, 0.1, 0.1, 0.1, 0.1, 0.0, 0.1,
     0.1, 0.0, 0.1, 0.0, 0.0, 0.0, 0.0, 0.0, 0.0, 0.0, 0.0, 0.0, 0.0, 0.0, 0.0, 0.0, 0.0, 0.0, 0.0, 0.0,
     0.0, 0.0, 0.0, 0.0, 0.0, 0.0],
    [3.0, 2.6, 3.3, 2.8, 2.4, 3.1, 2.7, 3.5, 2.9, 2.5, 3.2, 2.8, 2.4, 3.0, 2.6, 2.2, 2.8, 2.5, 2.1, 2.7,
     2.3, 2.0, 2.5, 2.2, 1.8, 2.3, 1.9, 2.1, 1.7, 1.9, 1.5, 1.8, 1.4, 1.6, 1.2, 1.5, 1.1, 1.3, 1.0, 1.2,
     0.9, 1.1, 0.8, 1.0, 0.7, 0.9, 0.6, 0.8, 0.6, 0.7, 0.5, 0.6, 0.4, 0.5, 0.4, 0.5, 0.3, 0.4, 0.3, 0.3,
     0.2, 0.3, 0.2, 0.3, 0.2, 0.2, 0.1, 0.2, 0.2, 0.1, 0.1, 0.2, 0.1, 0.1, 0.1, 0.1, 0.1, 0.1, 0.0, 0.1,
     0.0, 0.1, 0.0, 0.0, 0.0, 0.0],
    [0.4, 0.3, 0.5, 0.3, 0.4, 0.2, 0.4, 0.3, 0.5, 0.3, 0.2, 0.4, 0.3, 0.2, 0.3, 0.4, 0.2, 0.3, 0.2, 0.3,
     0.2, 0.1, 0.3, 0.2, 0.2, 0.1, 0.2, 0.1, 0.2, 0.1, 0.1, 0.2, 0.1, 0.1, 0.1, 0.0, 0.1, 0.1, 0.0, 0.1,
     0.0, 0.0, 0.1, 0.0, 0.0, 0.0, 0.0, 0.0, 0.0, 0.0, 0.0, 0.0, 0.0, 0.0, 0.0, 0.0, 0.0, 0.0, 0.0, 0.0,
     0.0, 0.0, 0.0, 0.0, 0.0, 0.0, 0.0, 0.0, 0.0, 0.0, 0.0, 0.0, 0.0, 0.0, 0.0, 0.0, 0.0, 0.0, 0.0, 0.0,
     0.0, 0.0, 0.0, 0.0, 0.0, 0.0],
]

c_hist = "grey"
c_126 = "#1f3a60"
c_245 = "#f0da3a"
c_585 = "#8e1426"

W, H, DPI = 1040, 589, 144
fig = plt.figure(figsize=(W / DPI, H / DPI), dpi=DPI)
# axes placed in pixels (right spine falls just outside the image)
ax = fig.add_axes([80 / W, (H - 527) / H, (1051 - 80) / W, (527 - 44) / H])

for m in hist_models:
    ax.plot(hist_years, m, color=c_hist, lw=0.5, alpha=0.5)
for models, c in [(ssp126_models, c_126), (ssp245_models, c_245), (ssp585_models, c_585)]:
    for m in models:
        ax.plot(ssp_years, m, color=c, lw=0.5, alpha=0.55)

ax.plot(obs_years, nasateam, color="black", lw=1.2, label="NASATeam")
ax.plot(obs_years, bootstrap, color="black", lw=1.2, ls="--", label="Bootstrap")
ax.plot(hist_years, mmm_hist, color=c_hist, lw=2.5, label="MMM_cmip6-historical(42)")
ax.plot(ssp_years, mmm_126, color=c_126, lw=2.5, label="MMM_ssp126(25)")
ax.plot(ssp_years, mmm_245, color=c_245, lw=2.5, label="MMM_ssp245(27)")
ax.plot(ssp_years, mmm_585, color=c_585, lw=2.5, label="MMM_ssp585(26)")

ax.set_xlim(1942.5, 2107.5)
ax.set_ylim(0, 9)
ax.set_xticks([1950, 1975, 2000, 2025, 2050, 2075, 2100])
ax.set_xlabel("Year")
ax.set_ylabel("SIA (million km$^2$)")
ax.set_title("SIA February")
ax.legend(loc="upper right", bbox_to_anchor=(1038 / W, 1 - 56 / H),
          bbox_transform=fig.transFigure, borderaxespad=0,
          fontsize=10.75, labelspacing=0.68)

fig.savefig("out.png", dpi=DPI)
